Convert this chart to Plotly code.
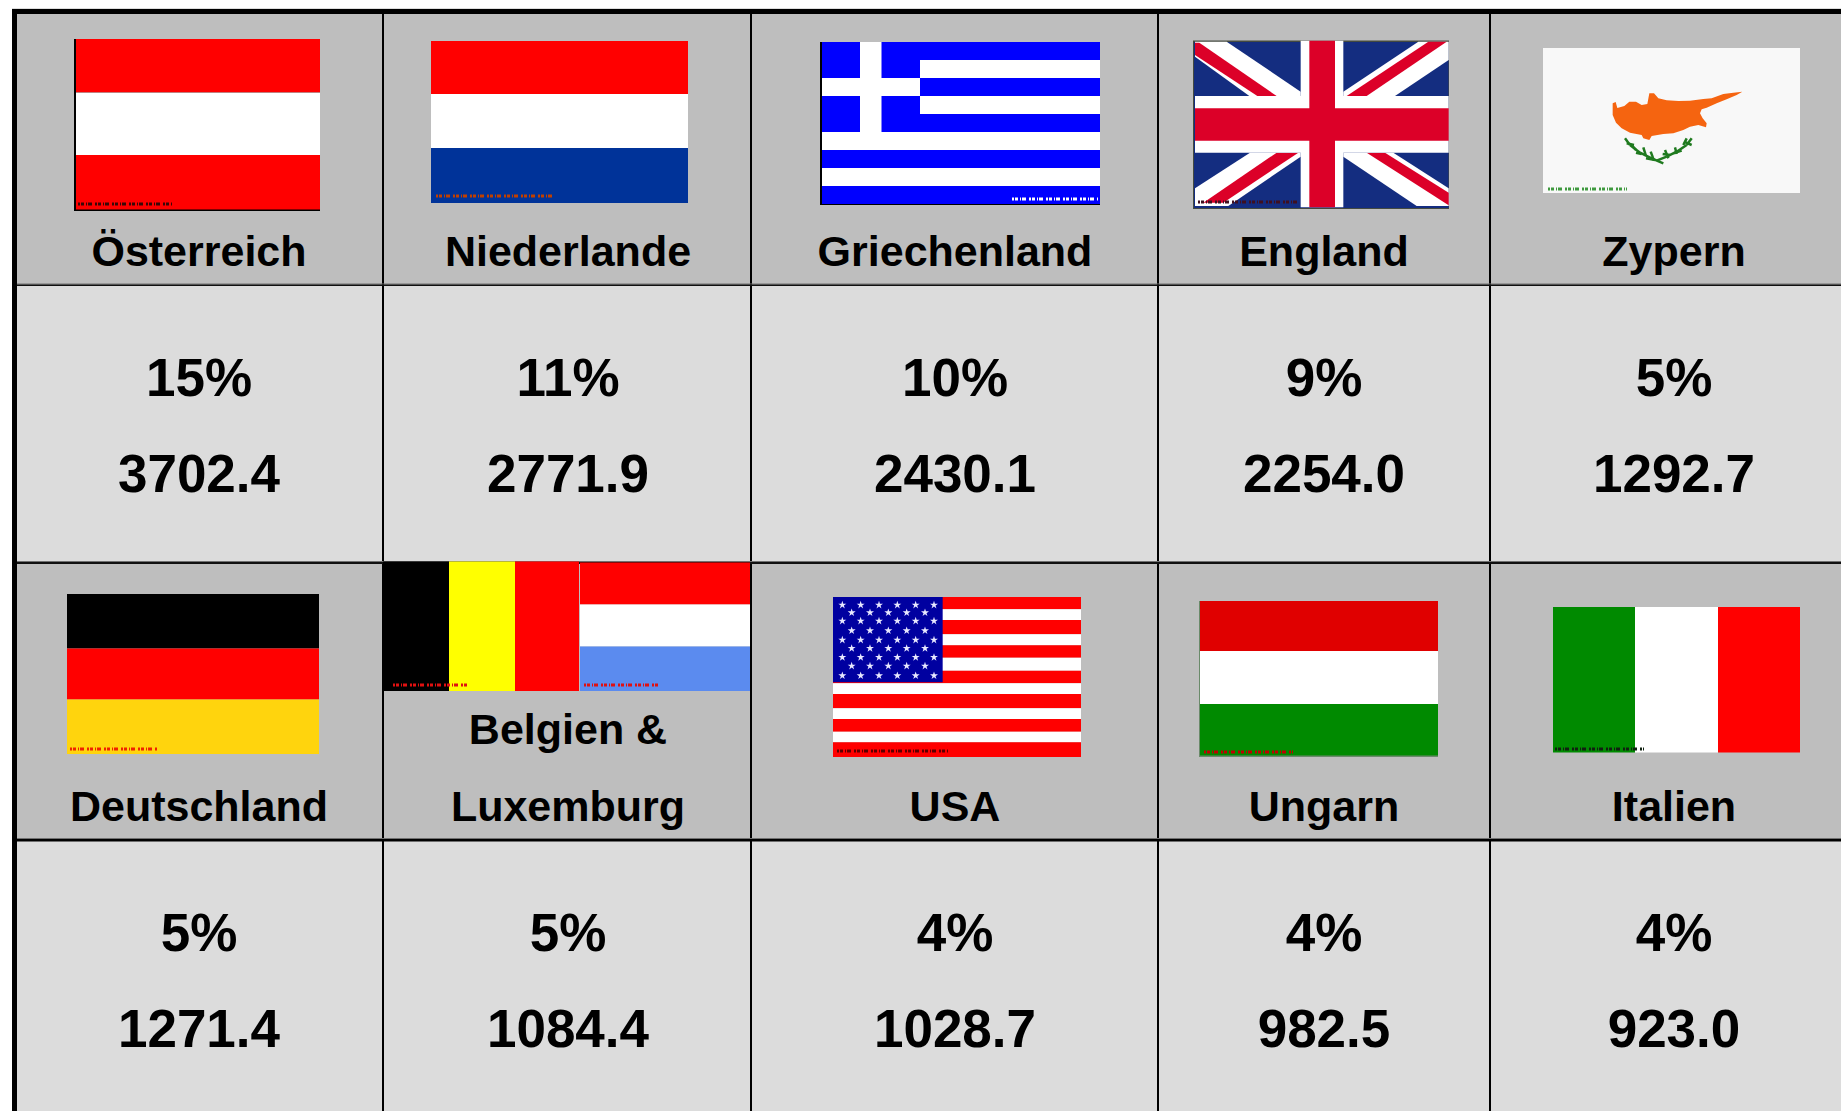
import plotly.graph_objects as go

# ---- data ----
names_top = ["Österreich", "Niederlande", "Griechenland", "England", "Zypern"]
pct_top = ["15%", "11%", "10%", "9%", "5%"]
val_top = ["3702.4", "2771.9", "2430.1", "2254.0", "1292.7"]
names_bottom = ["Deutschland", "Luxemburg", "USA", "Ungarn", "Italien"]
name_extra = "Belgien &"
pct_bottom = ["5%", "5%", "4%", "4%", "4%"]
val_bottom = ["1271.4", "1084.4", "1028.7", "982.5", "923.0"]

# ---- table layout (pixels of the page) ----
W, H = 1841, 1111
col_edges = [17, 383, 751, 1158, 1490, 1856]
text_mid = [199, 568, 955, 1324, 1674]
GREY_HEAD, GREY_BODY = "#bebebe", "#dcdcdc"
RED, WHITE, BLACK = "#ff0000", "#ffffff", "#000000"

shapes = []


def rect(x0, y0, x1, y1, c):
    shapes.append(dict(type="rect", x0=x0, y0=y0, x1=x1, y1=y1, fillcolor=c,
                       line=dict(width=0), layer="below", xref="x", yref="y"))


def poly(pts, c):
    p = "M" + " L".join(f"{x},{y}" for x, y in pts) + " Z"
    shapes.append(dict(type="path", path=p, fillcolor=c, line=dict(width=0),
                       layer="below", xref="x", yref="y"))


def line(x0, y0, x1, y1, c, w, dash="solid"):
    shapes.append(dict(type="line", x0=x0, y0=y0, x1=x1, y1=y1,
                       line=dict(color=c, width=w, dash=dash), layer="below",
                       xref="x", yref="y"))


def hstripes(x0, x1, ys, cols):
    for a, b, c in zip(ys, ys[1:], cols):
        rect(x0, a, x1, b, c)


def vstripes(xs, y0, y1, cols):
    for a, b, c in zip(xs, xs[1:], cols):
        rect(a, y0, b, y1, c)


def mark(x0, x1, y, c, w=3):
    line(x0, y, x1, y, c, w, "2px,1px,3px,2px,1px,1px,4px,3px")


# cell backgrounds
rect(17, 14, W, 285, GREY_HEAD)
rect(17, 285, W, 562, GREY_BODY)
rect(17, 562, W, 839, GREY_HEAD)
rect(17, 839, W, H, GREY_BODY)

# grid
rect(12, 8, W, 9, "#dddddd")
rect(12, 9, W, 14, BLACK)
rect(12, 9, 17, H, BLACK)
for xe in col_edges[1:5]:
    rect(xe - 1, 14, xe + 1, H, BLACK)
rect(17, 283.5, W, 284.5, "#707070")
rect(17, 284.5, W, 286, "#101010")
rect(17, 561, W, 562, "#707070")
rect(17, 562, W, 564, "#101010")
rect(17, 838, W, 839, "#707070")
rect(17, 839, W, 841.5, BLACK)

# Austria
rect(74, 39, 320, 211, BLACK)
hstripes(76, 320, [39, 92.5, 155, 209.5], [RED, WHITE, RED])
mark(78, 173, 204, "#3a0808")

# Netherlands
hstripes(431, 688, [41, 94, 148, 203], [RED, WHITE, "#003399"])
mark(436, 555, 196, "#c04000")

# Greece
rect(820, 42, 1100, 205, BLACK)
gy = [42, 60, 78, 96, 114, 132, 150, 168, 186, 204]
hstripes(822, 1100, gy, ["#0000ff", WHITE] * 4 + ["#0000ff"])
rect(822, 42, 920, 132, "#0000ff")
rect(860, 42, 881.5, 132, WHITE)
rect(822, 78, 920, 96, WHITE)
mark(1012, 1098, 199, WHITE)


# England (flag drawn in a local frame scaled by 3)
def uk(x, y):
    return (1170 + x / 3, 20 + y / 3)


UK_BLUE, UK_RED = "#142d80", "#dc0028"
rect(1193, 40.5, 1449, 209, "#444a40")
rect(1194, 42, 1448.5, 208, UK_BLUE)
for pts, c in [
    ([(75, 65), (170, 65), (392, 215), (392, 228), (238, 228), (75, 110)], WHITE),
    ([(75, 68), (88, 68), (320, 228), (262, 228), (75, 105)], UK_RED),
    ([(745, 65), (836, 65), (836, 120), (675, 228), (520, 228), (520, 215)], WHITE),
    ([(775, 65), (830, 65), (590, 228), (530, 228)], UK_RED),
    ([(75, 505), (240, 398), (392, 398), (392, 410), (175, 558), (75, 558)], WHITE),
    ([(320, 398), (385, 398), (160, 548), (100, 548)], UK_RED),
    ([(520, 410), (740, 558), (836, 558), (836, 505), (670, 398), (520, 398)], WHITE),
    ([(590, 398), (645, 398), (836, 518), (836, 556)], UK_RED),
]:
    poly([uk(a, b) for a, b in pts], c)
rect(*uk(392, 62), *uk(520, 562), WHITE)
rect(*uk(75, 228), *uk(836, 398), WHITE)
rect(*uk(418, 62), *uk(495, 562), UK_RED)
rect(*uk(75, 265), *uk(836, 362), UK_RED)
mark(1198, 1298, 202, "#401020")

# Cyprus
rect(1543, 48, 1800, 193, "#f8f8f8")


def cy(x, y):
    return (1530 + x / 3, 30 + y / 3)


island = [(248, 220), (257, 216), (262, 234), (283, 228), (298, 215), (318, 215), (335, 225),
          (352, 222), (358, 190), (372, 190), (385, 205), (410, 211), (445, 213), (480, 212),
          (520, 207), (545, 205), (580, 192), (610, 188), (637, 185), (620, 195), (590, 208),
          (560, 220), (530, 233), (515, 238), (510, 250), (518, 265), (530, 280), (528, 292),
          (505, 285), (480, 290), (460, 300), (430, 310), (400, 312), (365, 318), (358, 330),
          (340, 325), (335, 315), (300, 308), (275, 295), (258, 278), (248, 255)]
poly([cy(a, b) for a, b in island], "#f56410")
CY_G = "#1f7a1f"
for (a, b), (c, d) in [
    ((285, 325), (300, 345)), ((300, 345), (330, 368)), ((330, 368), (365, 385)), ((365, 385), (400, 400)),
    ((485, 325), (470, 345)), ((470, 345), (440, 365)), ((440, 365), (410, 380)), ((410, 380), (380, 392)),
    ((290, 340), (312, 345)), ((305, 345), (318, 360)), ((318, 368), (335, 372)), ((340, 352), (348, 378)),
    ((362, 365), (372, 392)), ((348, 385), (375, 390)), ((462, 335), (485, 345)), ((460, 345), (470, 325)),
    ((435, 352), (440, 372)), ((405, 360), (415, 385)), ((455, 362), (430, 370)), ((420, 375), (398, 372)),
]:
    line(*cy(a, b), *cy(c, d), CY_G, 2.5)
mark(1548, 1627, 189, "#3f9a3f")

# Germany
hstripes(67, 319, [594, 648.5, 699.5, 754], [BLACK, RED, "#ffd40d"])
mark(70, 157, 749, "#f02000")

# Belgium
vstripes([383, 449, 515, 579], 561.5, 691, [BLACK, "#ffff00", RED])
mark(393, 468, 685, "#e01010")

# Luxembourg
hstripes(580, 750, [562.5, 604.5, 646.5, 691], [RED, WHITE, "#5b8bef"])
mark(584, 660, 685, "#e01010")

# USA
us_y = [51, 88, 120, 163, 196, 233, 272, 310, 342, 385, 417, 455, 487, 531]


def us_py(v):
    return 580 + v / 3


hstripes(833, 1081, [us_py(v) for v in us_y], [RED, WHITE] * 6 + [RED])
US_BLUE = "#0000a0"
rect(833, 597, 810 + 398 / 3, us_py(307), US_BLUE)
mark(837, 949, 751, "#600000")

# Hungary
rect(1199, 601, 1438, 757, "#6a8a6a")
hstripes(1200, 1438, [601, 651, 704, 755.5], ["#e00000", WHITE, "#008a00"])
mark(1204, 1293, 752, "#c00000")

# Italy
vstripes([1553, 1635, 1718, 1800], 607, 752.5, ["#008a00", WHITE, RED])
mark(1555, 1644, 749, "#102010")

# ---- stars on the US flag ----
star_rows = [75, 98, 123, 152, 180, 205, 232, 258, 287]
star_six = [97, 152, 207, 262, 317, 372]
star_five = [125, 180, 235, 290, 345]
sx, sy = [], []
for i, r in enumerate(star_rows):
    for c in (star_five if i % 2 else star_six):
        sx.append(810 + c / 3)
        sy.append(580 + r / 3)

FONT = "Liberation Sans"
fig = go.Figure()
fig.add_trace(go.Scatter(x=sx, y=sy, mode="markers", hoverinfo="skip",
                         marker=dict(symbol="star", size=6, color="#e8e8ff", line=dict(width=0))))


def texts(xs, y, labels, size):
    fig.add_trace(go.Scatter(x=xs, y=[y] * len(xs), mode="text", text=labels,
                             textposition="middle center", hoverinfo="skip",
                             textfont=dict(family=FONT, size=size, color=BLACK, weight="bold")))


texts(text_mid, 255, names_top, 43)
texts(text_mid, 383, pct_top, 53)
texts(text_mid, 479, val_top, 53)
texts(text_mid, 810, names_bottom, 43)
texts([text_mid[1]], 733, [name_extra], 43)
texts(text_mid, 938, pct_bottom, 53)
texts(text_mid, 1034, val_bottom, 53)

fig.update_layout(
    width=W, height=H, margin=dict(l=0, r=0, t=0, b=0), showlegend=False,
    paper_bgcolor=WHITE, plot_bgcolor=WHITE, shapes=shapes,
    xaxis=dict(range=[0, W], visible=False, fixedrange=True),
    yaxis=dict(range=[H, 0], visible=False, fixedrange=True),
)
fig.write_html("out.html", config=dict(displayModeBar=False),
               post_script="document.body.style.margin='0';document.body.style.overflow='hidden';")
